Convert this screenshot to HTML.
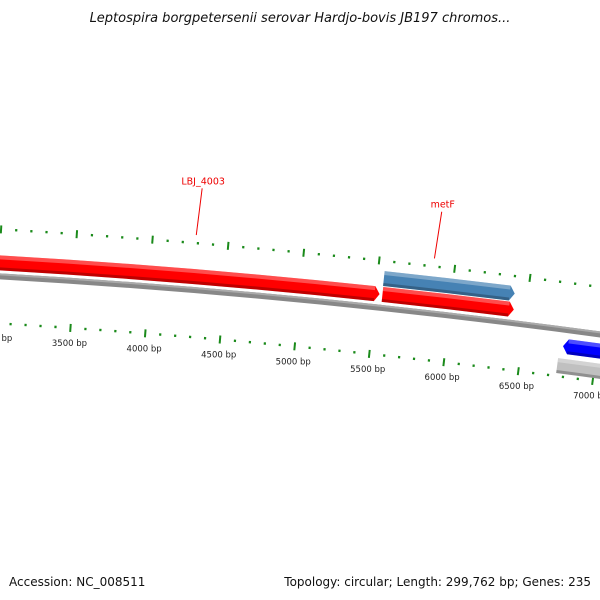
<!DOCTYPE html>
<html><head><meta charset="utf-8">
<style>
html,body{margin:0;padding:0;background:#fff;}
svg{display:block;font-family:"DejaVu Sans","Liberation Sans",sans-serif;}
</style></head>
<body>
<svg id="map" width="600" height="600" viewBox="0 0 600 600" xmlns="http://www.w3.org/2000/svg">
<defs>
<linearGradient id="gBack" x1="0" y1="0" x2="0" y2="1"><stop offset="0" stop-color="#b0b0b0"/><stop offset="1" stop-color="#666"/></linearGradient>
</defs>
<text x="300" y="22" text-anchor="middle" font-size="13" font-style="italic" fill="#111">Leptospira borgpetersenii serovar Hardjo-bovis JB197 chromos...</text>
<g id="layer"></g>
<text x="9" y="586" font-size="12" fill="#111">Accession: NC_008511</text>
<text x="591" y="586" text-anchor="end" font-size="12" fill="#111">Topology: circular; Length: 299,762 bp; Genes: 235</text>
</svg>
<script>
// data
const featStart = [1500, 5545, 5543, 6774, 6752];
const featEnd   = [5526, 6420, 6413, 7600, 7600];
const featStrand= [1, 1, 1, -1, 0];
const featColor = ['#ff0000','#ff0000','#4682b4','#0000ff','#c0c0c0'];
const featTrack = [1, 1, 2, -1, -2];
const featNames = ['', '', '', '', ''];
const labelText = ['LBJ_4003', 'metF'];
const labelBp   = [4285, 5860];
const tickMin = 1000, tickMax = 8000, tickStep = 100, majorStep = 500;

// geometry
const cx=-460, cy=8163, Rb=7900, Rin=7853, Rout=7947, Rlab=7838;
const theta0=0.0676, bp0=3500, k=1.91e-5;
const trackR = {1:[7906,7921],2:[7922,7937],'-1':[7876,7891],'-2':[7856,7871]};
const svgNS='http://www.w3.org/2000/svg';
const layer=document.getElementById('layer');
function ang(b){return theta0+(b-bp0)*k;}
function pt(r,t){return [cx+r*Math.sin(t), cy-r*Math.cos(t)];}
function mk(tag,attrs){const e=document.createElementNS(svgNS,tag);for(const a in attrs)e.setAttribute(a,attrs[a]);layer.appendChild(e);return e;}
function arcPath(r1,r2,t1,t2,strand){
  const tip=5/r1, rm=(r1+r2)/2;
  let a1=t1,a2=t2,p=[];
  if(strand===1)a2=t2-tip; if(strand===-1)a1=t1+tip;
  const A=pt(r2,a1),B=pt(r2,a2),C=pt(r1,a2),D=pt(r1,a1);
  let d='M'+A[0]+' '+A[1]+' A'+r2+' '+r2+' 0 0 1 '+B[0]+' '+B[1];
  if(strand===1){const T=pt(rm,t2);d+=' L'+T[0]+' '+T[1];}
  d+=' L'+C[0]+' '+C[1]+' A'+r1+' '+r1+' 0 0 0 '+D[0]+' '+D[1];
  if(strand===-1){const T=pt(rm,t1);d+=' L'+T[0]+' '+T[1];}
  return d+' Z';
}
// backbone
let bb=mk('path',{d:arcPath(Rb-3,Rb+3,ang(0),ang(9000),0),fill:'#888'});


let bbh=mk('path',{d:arcPath(Rb+1,Rb+3,ang(0),ang(9000),0),fill:'#aaa'});


// ticks
for(let b=tickMin;b<=tickMax;b+=tickStep){
  const t=ang(b), major=(b%majorStep===0);
  const len=major?4:1.2;
  [Rin,Rout].forEach((R,i)=>{
    const p1=pt(R-len,t),p2=pt(R+len,t);
    const l=mk('line',{x1:p1[0],y1:p1[1],x2:p2[0],y2:p2[1],stroke:'#1a8a1a','stroke-width':major?2:2.2});
    
    
  });
  if(major){
    const p=pt(Rlab,t);
    const tx=mk('text',{x:p[0],y:p[1]+3,'text-anchor':'middle','font-size':'8.5',fill:'#222'});
    tx.textContent=b+' bp';
    
    
  }
}
// features
for(let i=0;i<featStart.length;i++){
  const r=trackR[featTrack[i]];
  const f=mk('path',{d:arcPath(r[0],r[1],ang(featStart[i]),ang(featEnd[i]),featStrand[i]),fill:featColor[i]});
  
  
  const h=mk('path',{d:arcPath(r[1]-4,r[1],ang(featStart[i])+(featStrand[i]===-1?5/r[0]:0),ang(featEnd[i])-(featStrand[i]===1?5/r[0]:0),0),fill:'#fff','fill-opacity':0.3});
  
  
  const s=mk('path',{d:arcPath(r[0],r[0]+3,ang(featStart[i])+(featStrand[i]===-1?5/r[0]:0),ang(featEnd[i])-(featStrand[i]===1?5/r[0]:0),0),fill:'#000','fill-opacity':0.25});
  
  
}
// labels
for(let i=0;i<labelText.length;i++){
  const t=ang(labelBp[i]);
  const p1=pt(7955,t),p2=pt(8002,t);
  const l=mk('line',{x1:p1[0],y1:p1[1],x2:p2[0]+2,y2:p2[1],stroke:'#e00','stroke-width':1});
  
  
  const tx=mk('text',{x:p2[0]+3,y:p2[1]-4,'text-anchor':'middle','font-size':'9.5',fill:'#e00'});
  tx.textContent=labelText[i];
  
  
}
</script>
</body></html>
